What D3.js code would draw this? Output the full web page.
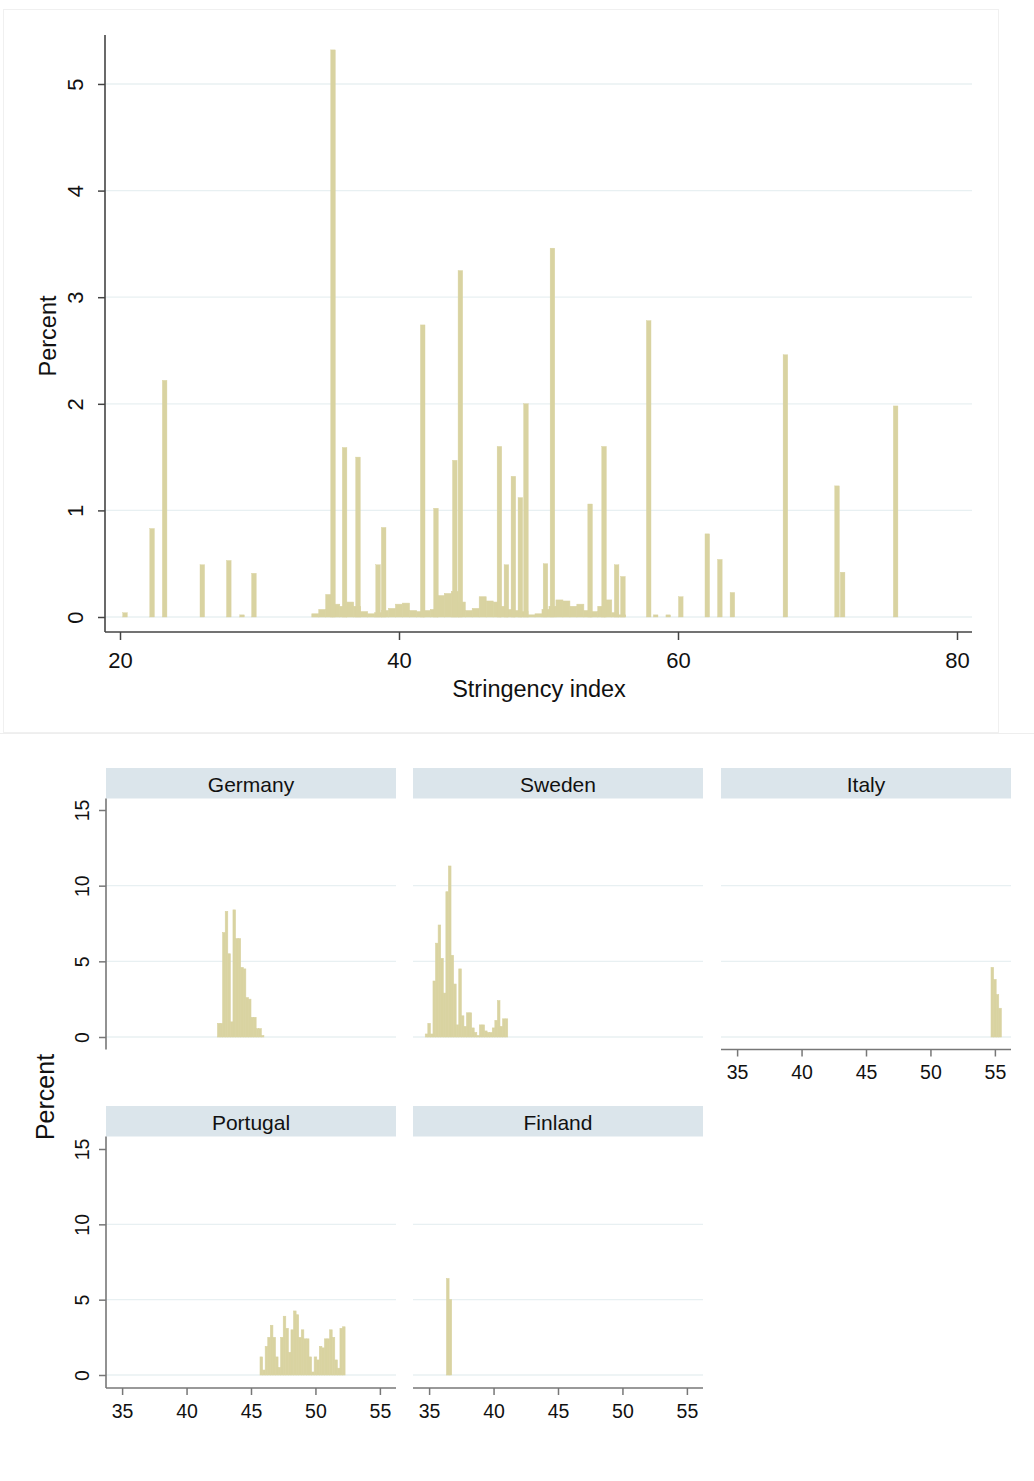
<!DOCTYPE html>
<html><head><meta charset="utf-8">
<script src="https://cdn.jsdelivr.net/npm/d3@7"></script>
<style>
body{margin:0;background:#fff;}
text{font-family:"Liberation Sans",Arial,Helvetica,sans-serif;fill:#111;}
</style>
</head><body>
<svg id="c" width="1034" height="1481"></svg>
<script>
// ---------- DATA ----------
const mainTicksX = [20, 40, 60, 80];
const mainTicksY = [0, 1, 2, 3, 4, 5];
const mainXTitle = "Stringency index";
const mainYTitle = "Percent";
// tall narrow bars: [stringency, percent]
const mainSpikes = [[20.36,0.04],[22.3,0.83],[23.2,2.22],[25.9,0.49],[27.8,0.53],[28.75,0.02],[29.6,0.41],
 [35.27,5.32],[36.1,1.59],[37.06,1.5],[38.5,0.49],[38.9,0.84],[41.7,2.74],[42.65,1.02],[44.0,1.47],[44.4,3.25],
 [47.2,1.6],[47.7,0.49],[48.2,1.32],[48.7,1.12],[49.1,2.0],[50.5,0.5],[51.0,3.46],[53.7,1.06],[54.7,1.6],
 [55.6,0.49],[56.05,0.38],[57.9,2.78],[58.4,0.02],[59.3,0.02],[60.2,0.19],[62.1,0.78],[63.0,0.54],[63.9,0.23],
 [67.7,2.46],[71.4,1.23],[71.8,0.42],[75.6,1.98]];
// low dense background mass: [stringency, percent]
const mainDense = [[34.0,0.03],[34.5,0.07],[35.0,0.21],[35.5,0.12],[36.0,0.1],[36.5,0.14],[37.0,0.1],[37.5,0.05],
 [38.0,0.03],[38.5,0.04],[39.0,0.06],[39.5,0.08],[40.0,0.12],[40.5,0.13],[41.0,0.06],[41.5,0.05],[42.0,0.06],
 [42.5,0.07],[43.0,0.2],[43.5,0.22],[44.0,0.24],[44.5,0.14],[45.0,0.06],[45.5,0.08],[46.0,0.19],[46.5,0.15],
 [47.0,0.14],[47.5,0.1],[48.0,0.07],[48.5,0.06],[49.0,0.05],[49.5,0.02],[50.0,0.03],[50.5,0.07],[51.0,0.1],
 [51.5,0.16],[52.0,0.15],[52.5,0.1],[53.0,0.12],[53.5,0.06],[54.0,0.05],[54.5,0.1],[55.0,0.16],[55.5,0.04],[56.0,0.02]];

const panelNames = ["Germany", "Sweden", "Italy", "Portugal", "Finland"];
const panelTicksX = [35, 40, 45, 50, 55];
const panelTicksY = [0, 5, 10, 15];
const germany = [[42.5,0.9],[42.7,0.9],[42.9,6.9],[43.1,8.3],[43.3,5.5],[43.5,1.0],[43.7,8.4],[43.9,6.5],[44.1,6.5],
 [44.3,4.6],[44.5,4.5],[44.7,2.6],[44.9,2.5],[45.1,1.3],[45.3,1.3],[45.5,0.55],[45.7,0.55],[45.9,0.1]];
const sweden = [[34.8,0.2],[35.0,0.9],[35.2,0.2],[35.4,3.7],[35.6,6.2],[35.8,7.4],[36.0,5.2],[36.2,2.9],[36.4,9.6],
 [36.6,11.3],[36.8,5.4],[37.0,3.5],[37.2,0.8],[37.4,4.5],[37.6,1.4],[37.8,0.7],[38.0,1.6],[38.2,1.6],[38.4,0.6],
 [38.6,0.3],[38.8,0.1],[39.0,0.8],[39.2,0.8],[39.4,0.4],[39.6,0.3],[39.8,0.3],[40.0,0.6],[40.2,1.1],[40.4,2.4],
 [40.6,0.7],[40.8,1.2],[41.0,1.2]];
const italy = [[54.8,4.6],[55.0,3.8],[55.2,2.8],[55.4,1.9]];
const portugal = [[45.8,1.2],[46.0,0.33],[46.2,1.9],[46.4,2.5],[46.6,3.3],[46.8,2.5],[47.0,1.2],[47.2,0.5],[47.4,2.5],
 [47.6,3.9],[47.8,3.1],[48.0,1.5],[48.2,3.0],[48.4,4.25],[48.6,4.0],[48.8,2.5],[49.0,3.0],[49.2,2.4],[49.4,2.4],
 [49.6,1.2],[49.8,0.2],[50.0,1.2],[50.2,1.0],[50.4,1.9],[50.6,1.8],[50.8,2.4],[51.0,2.4],[51.2,3.0],[51.4,2.5],
 [51.6,1.0],[51.8,0.45],[52.0,3.1],[52.2,3.2]];
const finland = [[36.45,6.4],[36.65,5.0]];
const panelData = [germany, sweden, italy, portugal, finland];

// ---------- STYLE / LAYOUT ----------
const BAR = "#d9d3a1";
const GRID = "#e8f0f2";
const STRIP = "#dbe5eb";
const FONT = '"Liberation Sans",Arial,Helvetica,sans-serif';

const svg = d3.select("#c");

// frames
svg.append("rect").attr("x",3.5).attr("y",9.5).attr("width",995).attr("height",723)
  .attr("fill","none").attr("stroke","#f0f0f0");
svg.append("line").attr("x1",0).attr("x2",1034).attr("y1",733.5).attr("y2",733.5).attr("stroke","#eeeeee");

// ---------- MAIN CHART ----------
const mx = d3.scaleLinear().domain([20,80]).range([120,957]);
const my = d3.scaleLinear().domain([0,5]).range([617,84]);
const g = svg.append("g");

g.selectAll("line.grid").data(mainTicksY).join("line")
  .attr("x1",105).attr("x2",972).attr("y1",d=>my(d)).attr("y2",d=>my(d))
  .attr("stroke",GRID).attr("stroke-width",1.3);

const wDense = 0.5, wSpike = 0.33;
g.selectAll("rect.dense").data(mainDense).join("rect")
  .attr("x",d=>mx(d[0]-wDense/2)).attr("width",d=>mx(d[0]+wDense/2)-mx(d[0]-wDense/2))
  .attr("y",d=>my(d[1])).attr("height",d=>my(0)-my(d[1])).attr("fill",BAR)
  .attr("stroke",BAR).attr("stroke-width",0.6);
g.selectAll("rect.spike").data(mainSpikes).join("rect")
  .attr("x",d=>mx(d[0]-wSpike/2)).attr("width",d=>mx(d[0]+wSpike/2)-mx(d[0]-wSpike/2))
  .attr("y",d=>my(d[1])).attr("height",d=>my(0)-my(d[1])).attr("fill",BAR)
  .attr("stroke",BAR).attr("stroke-width",0.4);

// axes
const xa = g.append("g").attr("transform","translate(0,632)")
  .call(d3.axisBottom(mx).tickValues(mainTicksX).tickSize(8).tickPadding(6).tickFormat(d3.format("d")));
xa.select(".domain").remove();
xa.selectAll(".tick line").attr("stroke","#444").attr("stroke-width",1.5);
xa.selectAll(".tick text").attr("font-size",22).attr("font-family",FONT).attr("fill","#111")
  .attr("dy",null).attr("y",28).attr("dominant-baseline","central");
g.append("line").attr("x1",105).attr("x2",972).attr("y1",632).attr("y2",632).attr("stroke","#444").attr("stroke-width",1.6);

const ya = g.append("g").attr("transform","translate(105,0)")
  .call(d3.axisLeft(my).tickValues(mainTicksY).tickSize(7).tickFormat(d3.format("d")));
ya.select(".domain").remove();
ya.selectAll(".tick line").attr("stroke","#444").attr("stroke-width",1.5);
ya.selectAll(".tick text").attr("font-size",22).attr("font-family",FONT).attr("fill","#111")
  .attr("x",null).attr("dy",null).attr("text-anchor","middle").attr("dominant-baseline","central")
  .attr("transform","translate(-30,0) rotate(-90)");
g.append("line").attr("x1",105).attr("x2",105).attr("y1",35).attr("y2",632).attr("stroke","#444").attr("stroke-width",1.6);

g.append("text").attr("x",539).attr("y",689).attr("text-anchor","middle").attr("dominant-baseline","central")
  .attr("font-size",23.5).text(mainXTitle);
g.append("text").attr("transform","translate(48,336) rotate(-90)").attr("text-anchor","middle")
  .attr("dominant-baseline","central").attr("font-size",23.5).text(mainYTitle);

// ---------- PANELS ----------
const colX = [106, 413, 721], pW = 290;
const rowStrip = [768, 1106], stripH = 30.5;
const rowY0 = [1037, 1375], rowY15 = [810, 1149], rowAxis = [1049.5, 1388];
const layout = [
  {col:0,row:0,yaxis:true,xaxis:false},
  {col:1,row:0,yaxis:false,xaxis:false},
  {col:2,row:0,yaxis:false,xaxis:true},
  {col:0,row:1,yaxis:true,xaxis:true},
  {col:1,row:1,yaxis:false,xaxis:true}
];
const wPanel = 0.2;

panelNames.forEach((name,i)=>{
  const L = layout[i];
  const x0 = colX[L.col];
  const px = d3.scaleLinear().domain([33.75,56.25]).range([x0, x0+pW]);
  const py = d3.scaleLinear().domain([0,15]).range([rowY0[L.row], rowY15[L.row]]);
  const pg = svg.append("g");
  // strip
  pg.append("rect").attr("x",x0).attr("y",rowStrip[L.row]).attr("width",pW).attr("height",stripH).attr("fill",STRIP);
  pg.append("text").attr("x",x0+pW/2).attr("y",rowStrip[L.row]+stripH/2+1).attr("text-anchor","middle")
    .attr("dominant-baseline","central").attr("font-size",21).text(name);
  // grid
  pg.selectAll("line.grid").data(panelTicksY.slice(0,3)).join("line")
    .attr("x1",x0).attr("x2",x0+pW).attr("y1",d=>py(d)).attr("y2",d=>py(d))
    .attr("stroke",GRID).attr("stroke-width",1.3);
  // bars
  pg.selectAll("rect.bar").data(panelData[i]).join("rect")
    .attr("x",d=>px(d[0]-wPanel/2)).attr("width",d=>px(d[0]+wPanel/2)-px(d[0]-wPanel/2))
    .attr("y",d=>py(d[1])).attr("height",d=>py(0)-py(d[1])).attr("fill",BAR)
    .attr("stroke",BAR).attr("stroke-width",0.6);
  if (L.xaxis) {
    const ax = pg.append("g").attr("transform",`translate(0,${rowAxis[L.row]})`)
      .call(d3.axisBottom(px).tickValues(panelTicksX).tickSize(7).tickFormat(d3.format("d")));
    ax.select(".domain").remove();
    ax.selectAll(".tick line").attr("stroke","#777").attr("stroke-width",1.5);
    ax.selectAll(".tick text").attr("font-size",19.5).attr("font-family",FONT).attr("fill","#111")
      .attr("dy",null).attr("y",22.5).attr("dominant-baseline","central");
    pg.append("line").attr("x1",x0).attr("x2",x0+pW).attr("y1",rowAxis[L.row]).attr("y2",rowAxis[L.row])
      .attr("stroke","#777").attr("stroke-width",1.6);
  }
  if (L.yaxis) {
    const ay = pg.append("g").attr("transform",`translate(${x0},0)`)
      .call(d3.axisLeft(py).tickValues(panelTicksY).tickSize(7).tickFormat(d3.format("d")));
    ay.select(".domain").remove();
    ay.selectAll(".tick line").attr("stroke","#777").attr("stroke-width",1.5);
    ay.selectAll(".tick text").attr("font-size",19.5).attr("font-family",FONT).attr("fill","#111")
      .attr("x",null).attr("dy",null).attr("text-anchor","middle").attr("dominant-baseline","central")
      .attr("transform","translate(-24,0) rotate(-90)");
    pg.append("line").attr("x1",x0).attr("x2",x0).attr("y1",rowStrip[L.row]+stripH).attr("y2",rowAxis[L.row])
      .attr("stroke","#777").attr("stroke-width",1.6);
  }
});

svg.append("text").attr("transform","translate(45,1097) rotate(-90)").attr("text-anchor","middle")
  .attr("dominant-baseline","central").attr("font-size",25).text("Percent");
</script>
</body></html>
